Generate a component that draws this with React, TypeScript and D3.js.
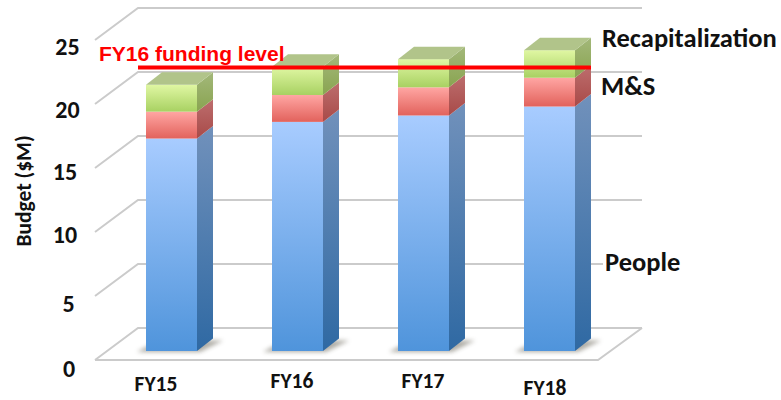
import React from "react";
import * as d3 from "d3";

// Budget by fiscal year, in $M
const years = ["FY15", "FY16", "FY17", "FY18"];
const people = [16.6, 17.9, 18.4, 19.1];
const ms = [2.1, 2.1, 2.2, 2.25];
const recap = [2.1, 2.2, 2.2, 2.15];
const fundingLevel = 22.15;
const axisTicks = [0, 5, 10, 15, 20, 25];
const yearLabelDx = [-15.5, -5.5, -0.5, -4.5];
const yearLabelY = [391, 388, 388, 394.5];
const tickLabelX = [69, 68.5, 65, 65, 67.5, 67.5];
const tickLabelDy = [17, 16, 11, 12, 14, 15];

const seriesKeys = ["people", "ms", "recap"];
const rows = years.map((year, i) => ({ year, people: people[i], ms: ms[i], recap: recap[i] }));

const W = 781;
const H = 400;
const DEPTH_X = 16;
const DEPTH_Y = 12.5;

// Bar faces sit on a plane between the floor's front edge and the back wall.
const y = d3.scaleLinear().domain([0, 25]).range([351, 31]);
const yBack = d3.scaleLinear().domain([0, 25]).range([328, 8]);
const yFront = d3.scaleLinear().domain([0, 25]).range([360, 40]);
const x = d3.scaleBand().domain(years).range([146, 575]).paddingInner(75 / 126).paddingOuter(0);
const stacked = d3.stack().keys(seriesKeys)(rows as any);
const poly = d3.line();

const BACK_L = 138;
const BACK_R = 642;
const FRONT_L = 95;
const FRONT_R = 598;

const palette: Record<string, { f: [string, string]; s: [string, string]; t: string }> = {
  people: { f: ["#a8ccff", "#4f94db"], s: ["#7191bb", "#2f69a3"], t: "#7191bb" },
  ms: { f: ["#ffa6a3", "#e2625c"], s: ["#bd6e6e", "#a84a48"], t: "#bd6e6e" },
  recap: { f: ["#e0f7a3", "#a8d162"], s: ["#a3b87a", "#89a450"], t: "#b1c48a" },
};

const labelFont = "Carlito, Lato, 'Open Sans', sans-serif";

export default function App() {
  const bw = x.bandwidth();
  return (
    <svg width={W} height={H} style={{ position: "absolute", left: 0, top: 0, background: "#fff" }}>
      <defs>
        {seriesKeys.map((k) => (
          <React.Fragment key={k}>
            <linearGradient id={`f-${k}`} x1="0" y1="0" x2="0" y2="1">
              <stop offset="0" stopColor={palette[k].f[0]} />
              <stop offset="1" stopColor={palette[k].f[1]} />
            </linearGradient>
            <linearGradient id={`s-${k}`} x1="0" y1="0" x2="0" y2="1">
              <stop offset="0" stopColor={palette[k].s[0]} />
              <stop offset="1" stopColor={palette[k].s[1]} />
            </linearGradient>
          </React.Fragment>
        ))}
        <filter id="soft" x="-20%" y="-50%" width="140%" height="200%">
          <feGaussianBlur stdDeviation="2" />
        </filter>
      </defs>

      {/* back wall and side wall gridlines */}
      <g stroke="#cbcbcb" strokeWidth={2} fill="none">
        {axisTicks.map((t) => (
          <path
            key={t}
            d={
              poly([
                [FRONT_L, yFront(t)],
                [BACK_L, yBack(t)],
                [BACK_R, yBack(t)],
              ]) as string
            }
          />
        ))}
        <path
          d={
            poly([
              [FRONT_L, yFront(0)],
              [FRONT_R, yFront(0)],
              [BACK_R, yBack(0)],
            ]) as string
          }
        />
      </g>

      {/* contact shadows under the bars */}
      {years.map((yr) => {
        const x0 = x(yr) as number;
        return (
          <path
            key={yr}
            fill="#8d8a80"
            opacity={0.7}
            filter="url(#soft)"
            d={
              poly([
                [x0 - 9, y(0) + 1],
                [x0 + bw + 3, y(0) + 1],
                [x0 + bw + DEPTH_X + 10, y(0) - DEPTH_Y + 2],
                [x0 + bw + 4, y(0) - DEPTH_Y + 2],
                [x0 + 2, y(0) - 5],
              ]) as string
            }
          />
        );
      })}

      {/* stacked 3D bars */}
      {stacked.map((layer: any) =>
        layer.map((d: any, i: number) => {
          const x0 = x(years[i]) as number;
          const x1 = x0 + bw;
          const yb = y(d[0]);
          const yt = y(d[1]);
          const k = layer.key;
          return (
            <g key={`${k}-${i}`}>
              <rect x={x0} y={yt} width={bw} height={yb - yt} fill={`url(#f-${k})`} />
              <path
                fill={`url(#s-${k})`}
                d={
                  poly([
                    [x1, yt],
                    [x1 + DEPTH_X, yt - DEPTH_Y],
                    [x1 + DEPTH_X, yb - DEPTH_Y],
                    [x1, yb],
                  ]) as string
                }
              />
              {k === "recap" && (
                <path
                  fill={palette[k].t}
                  d={
                    poly([
                      [x0, yt],
                      [x0 + DEPTH_X, yt - DEPTH_Y],
                      [x1 + DEPTH_X, yt - DEPTH_Y],
                      [x1, yt],
                    ]) as string
                  }
                />
              )}
            </g>
          );
        })
      )}

      {/* funding reference line */}
      <line
        x1={BACK_L}
        x2={(x("FY18") as number) + bw + DEPTH_X}
        y1={y(fundingLevel)}
        y2={y(fundingLevel)}
        stroke="#ff0000"
        strokeWidth={4}
      />
      <text x={99} y={61} fill="#ff0000" fontFamily="'Liberation Sans', Arial, sans-serif" fontWeight={700} fontSize={21}>
        FY16 funding level
      </text>

      {/* value axis */}
      <g fontFamily={labelFont} fontWeight={700} fontSize={24} fill="#111" textAnchor="middle">
        {axisTicks.map((t, i) => (
          <text key={t} x={tickLabelX[i]} y={yFront(t) + tickLabelDy[i]}>
            {t}
          </text>
        ))}
      </g>
      <text
        transform="translate(31,191) rotate(-90)"
        textAnchor="middle"
        fontFamily={labelFont}
        fontWeight={700}
        fontSize={21.5}
        fill="#111"
      >
        Budget ($M)
      </text>

      {/* category labels */}
      <g fontFamily={labelFont} fontWeight={700} fontSize={21.5} fill="#111" textAnchor="middle">
        {years.map((yr, i) => (
          <text key={yr} x={(x(yr) as number) + bw / 2 + yearLabelDx[i]} y={yearLabelY[i]}>
            {yr}
          </text>
        ))}
      </g>

      {/* series labels */}
      <rect x={603} y={248} width={80} height={30} fill="#fff" />
      <g fontFamily={labelFont} fontWeight={700} fontSize={26.5} fill="#111">
        <text x={602} y={46.5}>Recapitalization</text>
        <text x={601} y={95}>M&amp;S</text>
        <text x={605} y={270.5}>People</text>
      </g>
    </svg>
  );
}
